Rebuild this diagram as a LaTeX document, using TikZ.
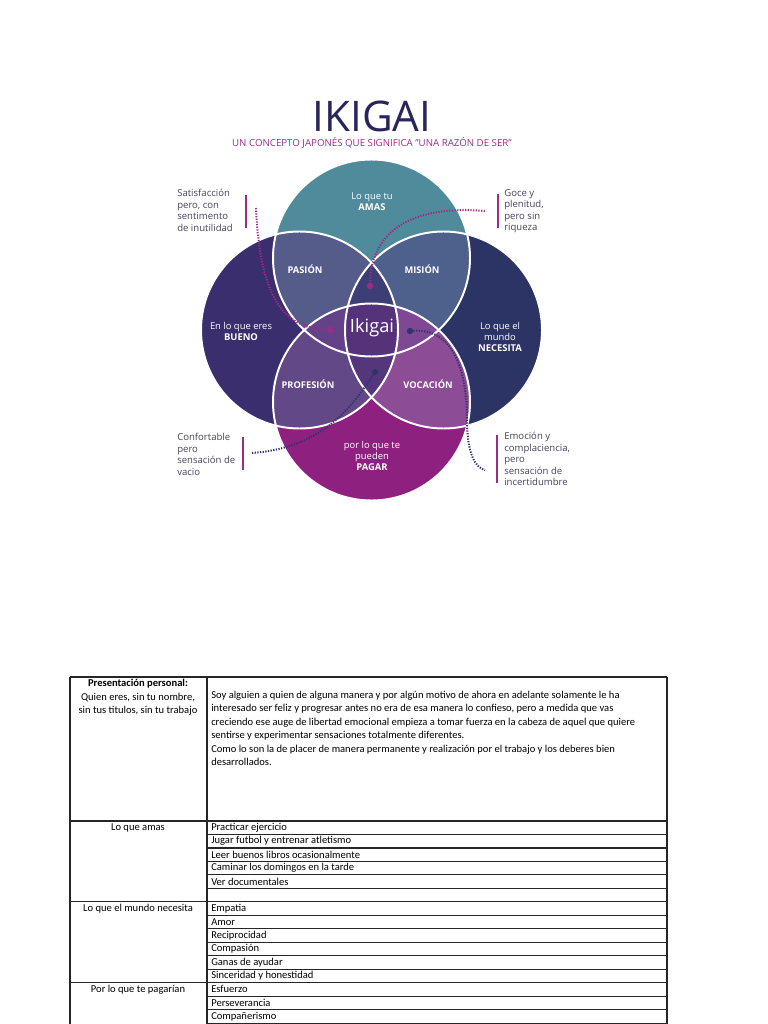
\documentclass[tikz,border=0pt]{standalone}
\usepackage{fontspec}
\setmainfont{Open Sans}
\newfontfamily\tablefont{Carlito}
\usepackage{tikz}
\usetikzlibrary{positioning}

\definecolor{amas}{RGB}{80,139,155}
\definecolor{bueno}{RGB}{58,46,110}
\definecolor{necesita}{RGB}{44,52,102}
\definecolor{pagar}{RGB}{142,32,128}
\definecolor{pasion}{RGB}{86,92,138}
\definecolor{mision}{RGB}{78,96,140}
\definecolor{profesion}{RGB}{98,72,135}
\definecolor{vocacion}{RGB}{140,76,150}
\definecolor{midtop}{RGB}{62,62,118}
\definecolor{midleft}{RGB}{100,66,138}
\definecolor{midright}{RGB}{126,72,148}
\definecolor{midlow}{RGB}{84,54,124}
\definecolor{centre}{RGB}{86,50,122}
\definecolor{iknavy}{RGB}{42,36,92}
\definecolor{ikmag}{RGB}{156,44,136}
\definecolor{dotnavy}{RGB}{48,52,108}
\definecolor{notegray}{RGB}{70,66,90}

\begin{document}
\begin{tikzpicture}[x=0.025cm, y=-0.025cm,
    lbl/.style={text=white, font=\fontsize{6.7}{7.8}\selectfont, align=center, inner sep=0},
    caps/.style={lbl, font=\bfseries\fontsize{6.6}{7.8}\selectfont},
    note/.style={text=notegray, font=\fontsize{6.8}{8.2}\selectfont, align=left, anchor=north west, inner sep=0},
    bar/.style={draw=ikmag, line width=1.5pt},
    dotline/.style={dash pattern=on 0.9pt off 1pt, line width=1.4pt},
    enddot/.style={circle, inner sep=0, minimum size=4.5pt},
    ring/.style={draw=white, line width=1.4pt},
    tline/.style={draw=black!85, line width=0.8pt},
    cell/.style={font=\tablefont\fontsize{7.5}{9.5}\selectfont, inner sep=0}]

\useasboundingbox (0,0) rectangle (768,1024);

% titles
\node[text=iknavy, font=\fontsize{30}{30}\selectfont] (title) at (372,116) {IKIGAI};
\node[text=ikmag, font=\fontsize{6.9}{8}\selectfont] (subtitle) at (372,143) {UN CONCEPTO JAPONÉS QUE SIGNIFICA "UNA RAZÓN DE SER"};

% circle centres
\def\rad{98.5}
\coordinate (cA) at (371.5,258);
\coordinate (cL) at (299.5,330);
\coordinate (cR) at (443.5,330);
\coordinate (cP) at (371.5,402);

% base circles
\fill[amas] (cA) circle (\rad);
\fill[bueno] (cL) circle (\rad);
\fill[necesita] (cR) circle (\rad);
\fill[pagar] (cP) circle (\rad);

% pairs
\begin{scope}\clip (cA) circle (\rad); \fill[pasion] (cL) circle (\rad); \fill[mision] (cR) circle (\rad); \end{scope}
\begin{scope}\clip (cP) circle (\rad); \fill[profesion] (cL) circle (\rad); \fill[vocacion] (cR) circle (\rad); \end{scope}

% triples
\begin{scope}\clip (cA) circle (\rad); \clip (cL) circle (\rad); \fill[midtop] (cR) circle (\rad); \end{scope}
\begin{scope}\clip (cA) circle (\rad); \clip (cL) circle (\rad); \fill[midleft] (cP) circle (\rad); \end{scope}
\begin{scope}\clip (cA) circle (\rad); \clip (cR) circle (\rad); \fill[midright] (cP) circle (\rad); \end{scope}
\begin{scope}\clip (cL) circle (\rad); \clip (cR) circle (\rad); \fill[midlow] (cP) circle (\rad); \end{scope}

% centre
\begin{scope}\clip (cA) circle (\rad); \clip (cL) circle (\rad); \clip (cR) circle (\rad); \fill[centre] (cP) circle (\rad); \end{scope}

\foreach \c in {cA,cL,cR,cP} \draw[ring] (\c) circle (\rad);

% circle labels
\node[lbl] (amasT) at (372,202) {Lo que tu\\\textbf{AMAS}};
\node[lbl] (buenoT) at (241,331) {En lo que eres\\\textbf{BUENO}};
\node[lbl] (necT) at (500,337) {Lo que el\\mundo\\\textbf{NECESITA}};
\node[lbl] (pagarT) at (372,456) {por lo que te\\pueden\\\textbf{PAGAR}};
\node[caps] (pasionT) at (305,269) {PASIÓN};
\node[caps] (misionT) at (422,269) {MISIÓN};
\node[caps] (profT) at (308,384) {PROFESIÓN};
\node[caps] (vocT) at (428,384) {VOCACIÓN};
\node[lbl, font=\fontsize{13}{13}\selectfont] (ikigaiT) at (372,328) {Ikigai};

% side notes
\node[note] (n1) at (177,189) {Satisfacción\\pero, con\\sentimento\\de inutilidad};
\node[note] (n2) at (504,189) {Goce y\\plenitud,\\pero sin\\riqueza};
\node[note] (n3) at (177,433) {Confortable\\pero\\sensación de\\vacio};
\node[note] (n4) at (504,432) {Emoción y\\complaciencia,\\pero\\sensación de\\incertidumbre};

\draw[bar] (246,195) -- (246,228);
\draw[bar] (498,194) -- (498,228);
\draw[bar] (243,437) -- (243,470);
\draw[bar] (497,435) -- (497,483);

% dotted leaders
\node[enddot, fill=ikmag] (dL) at (330,330) {};
\node[enddot, fill=ikmag] (dT) at (370,286) {};
\node[enddot, fill=dotnavy] (dR) at (410,331) {};
\node[enddot, fill=dotnavy] (dB) at (375,372) {};
\coordinate (sL) at (256,208);
\coordinate (sT) at (485,211);
\coordinate (sR) at (485,470);
\coordinate (sB) at (252,453);

\draw[dotline, ikmag] (sL) .. controls (260,300) and (285,328) .. (dL);
\draw[dotline, ikmag] (sT) .. controls (400,204) and (371,240) .. (dT);
\draw[dotline, dotnavy] (dR) .. controls (458,328) and (467,380) .. (467,420) .. controls (467,455) and (476,468) .. (sR);
\draw[dotline, dotnavy] (sB) .. controls (320,448) and (350,410) .. (dB);

% table
\draw[tline] (70,677) -- (667,677);
\draw[tline] (70,677) -- (70,1024);
\draw[tline] (207,677) -- (207,1024);
\draw[tline] (667,677) -- (667,1024);
\foreach \k in {0,6,12} \draw[tline] (70,{821+13.47*\k}) -- (207,{821+13.47*\k});
\foreach \k in {0,...,15} \draw[tline] (207,{821+13.47*\k}) -- (667,{821+13.47*\k});

\node[cell, align=center, anchor=north] (pres) at (138,679) {\textbf{Presentación personal:}\\Quien eres, sin tu nombre,\\sin tus titulos, sin tu trabajo};
\node[cell, align=left, anchor=north west] (presText) at (211,691) {Soy alguien a quien de alguna manera y por algún motivo de ahora en adelante solamente le ha\\interesado ser feliz y progresar antes no era de esa manera lo confieso, pero a medida que vas\\creciendo ese auge de libertad emocional empieza a tomar fuerza en la cabeza de aquel que quiere\\sentirse y experimentar sensaciones totalmente diferentes.\\Como lo son la de placer de manera permanente y realización por el trabajo y los deberes bien\\desarrollados.};

\node[cell] (amasL) at (138,{821+13.47*0.5}) {Lo que amas};
\node[cell] (necL) at (138,{821+13.47*6.5}) {Lo que el mundo necesita};
\node[cell] (pagL) at (138,{821+13.47*12.5}) {Por lo que te pagarían};

\foreach \txt [count=\k from 0] in {Practicar ejercicio, Jugar futbol y entrenar atletismo, Leer buenos libros ocasionalmente, Caminar los domingos en la tarde, Ver documentales, {}, Empatia, Amor, Reciprocidad, Compasión, Ganas de ayudar, Sinceridad y honestidad, Esfuerzo, Perseverancia, Compañerismo}
    \node[cell, anchor=west] (item\k) at (211,{821+13.47*(\k+0.5)}) {\txt};

\end{tikzpicture}
\end{document}
